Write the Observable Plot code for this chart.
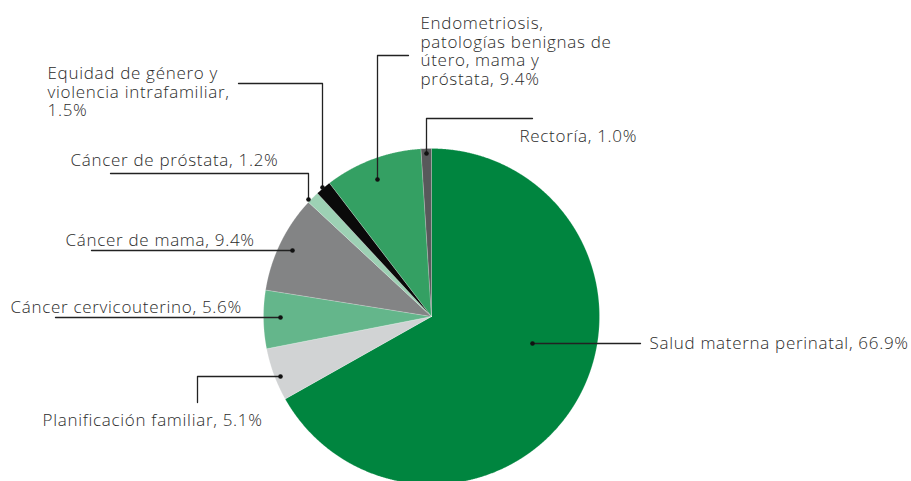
<!DOCTYPE html>
<html><head><meta charset="utf-8">
<script src="https://cdn.jsdelivr.net/npm/d3@7"></script>
<script src="https://cdn.jsdelivr.net/npm/@observablehq/plot@0.6"></script>
<style>html,body{margin:0;padding:0;background:#fff;overflow:hidden} #chart svg{display:block} #chart text{letter-spacing:0.7px}</style>
</head><body><div id="chart"></div>
<script>
// ---- data ----
const categories = [
  "Salud materna perinatal",
  "Planificación familiar",
  "Cáncer cervicouterino",
  "Cáncer de mama",
  "Cáncer de próstata",
  "Equidad de género y violencia intrafamiliar",
  "Endometriosis, patologías benignas de útero, mama y próstata",
  "Rectoría"
];
const shares = [66.9, 5.1, 5.6, 9.4, 1.2, 1.5, 9.4, 1.0];
const labelTexts = [
  "Salud materna perinatal, 66.9%",
  "Planificación familiar, 5.1%",
  "Cáncer cervicouterino, 5.6%",
  "Cáncer de mama, 9.4%",
  "Cáncer de próstata, 1.2%",
  "Equidad de género y\nviolencia intrafamiliar,\n1.5%",
  "Endometriosis,\npatologías benignas de\nútero, mama y\npróstata, 9.4%",
  "Rectoría, 1.0%"
];
const sliceColors = ["#00853f", "#d1d3d4", "#64b68b", "#838485", "#9dd1b4", "#0a0a0a", "#34a063", "#58595b"];

// ---- layout (annotation placement, chart coordinates) ----
const CX = 431, CY = 316, R = 168;
const leaders = [
  [[532, 343], [640, 343]],
  [[280, 376], [197, 376], [197, 402]],
  [[280, 317], [55, 317]],
  [[292, 250], [91, 250]],
  [[308, 199], [308, 173], [110, 173]],
  [[322, 187], [322, 83], [238, 83]],
  [[377, 179], [377, 55], [408, 55]],
  [[426, 153], [426, 118], [532, 118]]
];
const labelPos = [
  [649, 342.6, "middle"],
  [42, 419.6, "middle"],
  [10, 306.6, "middle"],
  [65, 239.6, "middle"],
  [70, 159.6, "middle"],
  [47, 65.9, "top"],
  [420, 15.9, "top"],
  [519, 135.6, "middle"]
];

// ---- build marks ----
const arcs = d3.pie().sort(null).value(d => d)(shares);
const slicePts = [];
arcs.forEach((a, i) => {
  slicePts.push({cat: categories[i], x: CX, y: CY});
  const n = Math.max(2, Math.ceil((a.endAngle - a.startAngle) / 0.004));
  for (let k = 0; k <= n; k++) {
    const t = a.startAngle + (a.endAngle - a.startAngle) * k / n;
    slicePts.push({cat: categories[i], x: CX + R * Math.sin(t), y: CY - R * Math.cos(t)});
  }
  slicePts.push({cat: categories[i], x: CX, y: CY});
});
const leaderPts = leaders.flatMap((pts, i) => pts.map(([x, y]) => ({id: i, x, y})));
const dotPts = leaders.map((pts) => ({x: pts[0][0], y: pts[0][1]}));
const labels = labelTexts.map((t, i) => ({text: t, x: labelPos[i][0], y: labelPos[i][1], anchor: labelPos[i][2]}));

const font = {fontSize: 17, fill: "#2b2b2b", textAnchor: "start", lineHeight: 1.08};
const chart = Plot.plot({
  width: 911, height: 481, margin: 0,
  x: {domain: [0, 911], range: [0, 911], axis: null},
  y: {domain: [0, 481], range: [0, 481], axis: null},
  color: {domain: categories, range: sliceColors},
  style: {fontFamily: "'Open Sans', sans-serif", fontWeight: 300, background: "#fff"},
  marks: [
    Plot.line(slicePts, {x: "x", y: "y", z: "cat", fill: "cat", stroke: "white", strokeWidth: 0.4, strokeOpacity: 0.5, curve: "linear"}),
    Plot.line(leaderPts, {x: "x", y: "y", z: "id", stroke: "#222", strokeWidth: 1.3}),
    Plot.dot(dotPts, {x: "x", y: "y", r: 2.3, fill: "#111", stroke: null}),
    Plot.text(labels.filter(d => d.anchor === "middle"), {x: "x", y: "y", text: "text", lineAnchor: "middle", ...font}),
    Plot.text(labels.filter(d => d.anchor === "top"), {x: "x", y: "y", text: "text", lineAnchor: "top", ...font})
  ]
});
document.getElementById("chart").append(chart);
</script>
</body></html>
